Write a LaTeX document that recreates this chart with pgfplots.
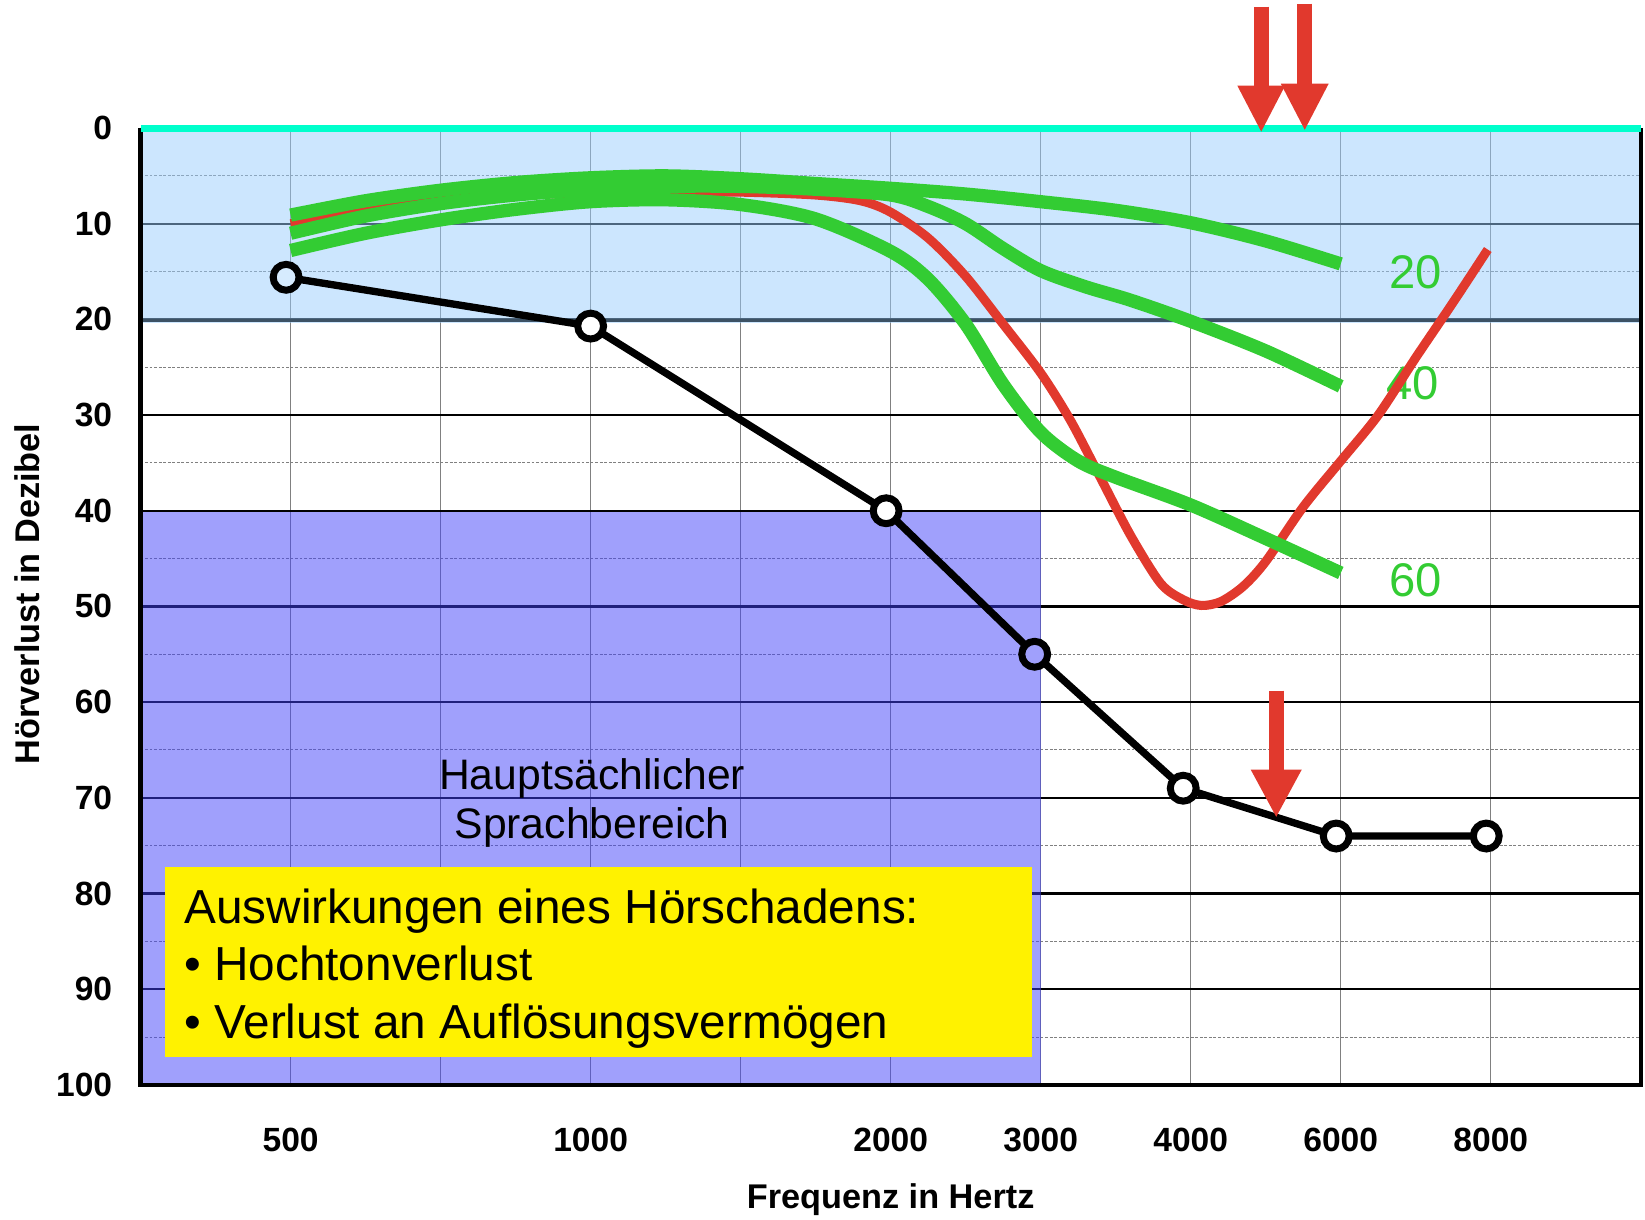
\documentclass[border=0pt]{standalone}
\usepackage{pgfplots}
\pgfplotsset{compat=1.18}
\usepackage{fontspec}
\setmainfont{Liberation Sans}
\usetikzlibrary{arrows.meta}

\definecolor{hlblue}{RGB}{153,205,253}
\definecolor{speech}{RGB}{65,65,249}
\definecolor{curvered}{RGB}{225,57,45}
\definecolor{curvegreen}{RGB}{51,204,51}
\definecolor{zeroline}{RGB}{0,255,204}
\definecolor{gridgray}{RGB}{128,128,128}

\begin{document}
\begin{tikzpicture}
\begin{axis}[
  scale only axis,
  width=429pt, height=273.6pt,
  xmin=0, xmax=10, ymin=0, ymax=100,
  y dir=reverse,
  clip=false,
  axis line style={draw=none},
  xtick={1,...,9},
  xticklabels={500,,1000,,2000,3000,4000,6000,8000},
  ytick={0,10,...,100},
  minor ytick={5,15,...,95},
  major tick length=0pt, minor tick length=0pt,
  xmajorgrids, ymajorgrids, yminorgrids,
  major x grid style={gridgray, line width=0.35pt},
  major y grid style={black, line width=0.65pt},
  minor y grid style={gridgray, line width=0.25pt, dash pattern=on 0.8pt off 0.5pt},
  ticklabel style={font=\fontsize{9.6}{11}\selectfont\bfseries},
  /pgf/number format/assume math mode=true,
  xticklabel shift=8.8pt, yticklabel shift=4.6pt,
  xlabel={Frequenz in Hertz}, ylabel={Hörverlust in Dezibel},
  label style={font=\fontsize{9.8}{11}\selectfont\bfseries},
  xlabel style={at={(axis description cs:0.5,-0.1195)}, anchor=center},
  ylabel style={at={(axis description cs:-0.0755,0.513)}, anchor=center},
]

% shaded bands (grid shows through)
\addplot[draw=none, fill=hlblue, fill opacity=0.5] coordinates {(0,0) (10,0) (10,20.4) (0,20.4)} -- cycle;
\addplot[draw=none, fill=speech, fill opacity=0.5] coordinates {(0,40.15) (6,40.15) (6,100) (0,100)} -- cycle;
\addplot[black!60!hlblue, line width=0.9pt] coordinates {(0,20.1) (10,20.1)};
\addplot[draw=none, fill=yellow] coordinates {(0.16,77.2) (5.94,77.2) (5.94,97.1) (0.16,97.1)} -- cycle;

\node[anchor=base, inner sep=0pt, font=\fontsize{12.2}{14}\selectfont] at (axis cs:3.01,69.1) {Hauptsächlicher};
\node[anchor=base, inner sep=0pt, font=\fontsize{12.2}{14}\selectfont] at (axis cs:3.01,74.3) {Sprachbereich};

\node[anchor=base west, inner sep=0pt, font=\fontsize{13.65}{15}\selectfont] at (axis cs:0.287,83.1) {Auswirkungen eines Hörschadens:};
\node[anchor=base west, inner sep=0pt, font=\fontsize{13.65}{15}\selectfont] at (axis cs:0.287,89.1) {• Hochtonverlust};
\node[anchor=base west, inner sep=0pt, font=\fontsize{13.65}{15}\selectfont] at (axis cs:0.287,95.2) {• Verlust an Auflösungsvermögen};

\node[anchor=base, inner sep=0pt, text=curvegreen, font=\fontsize{13.5}{15}\selectfont] at (axis cs:8.5,16.8) {20};
\node[anchor=base, inner sep=0pt, text=curvegreen, font=\fontsize{13.5}{15}\selectfont] at (axis cs:8.48,28.4) {40};
\node[anchor=base, inner sep=0pt, text=curvegreen, font=\fontsize{13.5}{15}\selectfont] at (axis cs:8.5,49.0) {60};

% red curve
\addplot[curvered, line width=2.6pt, smooth] coordinates {
  (1,10.0) (1.5,8.6) (2,7.5) (2.5,7.0) (3,6.8) (3.5,6.7) (4,6.7) (4.5,7.0)
  (4.8,7.6) (5,8.8) (5.25,11.5) (5.5,15.5) (5.75,20.5) (6,25.6) (6.2,30.6)
  (6.4,36.6) (6.6,42.6) (6.8,47.6) (6.95,49.3) (7.07,49.9) (7.2,49.5)
  (7.35,47.9) (7.5,45.3) (7.75,39.6) (8,34.8) (8.25,30.0) (8.5,24.0)
  (8.75,18.2) (8.98,12.7)
};

% green curves
\addplot[curvegreen, line width=3.8pt, smooth] coordinates {
  (1,9.1) (1.5,7.6) (2,6.5) (2.5,5.7) (3,5.2) (3.5,5.0) (4,5.3) (4.5,5.8)
  (5,6.3) (5.5,6.9) (6,7.7) (6.5,8.6) (7,9.9) (7.5,11.8) (8,14.2)
};
\addplot[curvegreen, line width=3.8pt, smooth] coordinates {
  (1,11.0) (1.5,9.2) (2,7.9) (2.5,7.0) (3,6.4) (3.5,6.1) (4,6.1) (4.5,6.4)
  (5,7.0) (5.25,8.2) (5.5,10.0) (5.75,12.6) (6,14.9) (6.3,16.6) (6.6,18.0)
  (7,20.2) (7.5,23.3) (8,27.0)
};
\addplot[curvegreen, line width=3.8pt, smooth] coordinates {
  (1,12.8) (1.5,11.0) (2,9.6) (2.5,8.5) (3,7.7) (3.5,7.5) (4,8.0) (4.5,9.5)
  (5,12.9) (5.25,15.8) (5.5,20.5) (5.75,26.8) (6,31.8) (6.25,34.8) (6.5,36.5)
  (7,39.4) (7.5,42.9) (8,46.5)
};

% audiogram
\addplot[black, line width=2.1pt, line join=round] coordinates {
  (0.97,15.6) (3,20.7) (4.97,40) (5.96,55) (6.95,69) (7.97,74) (8.97,74)
};
\addplot[only marks, mark=*, mark size=3.7pt, mark options={draw=black, fill=hlblue!40, line width=2pt}] coordinates {(0.97,15.6)};
\addplot[only marks, mark=*, mark size=3.7pt, mark options={draw=black, fill=white, line width=2pt}] coordinates {
  (3,20.7) (4.97,40) (6.95,69) (7.97,74) (8.97,74)
};
\addplot[only marks, mark=*, mark size=3.7pt, mark options={draw=black, fill=speech!50, line width=2pt}] coordinates {(5.96,55)};

% frame
\addplot[black, line width=1.3pt] coordinates {(0,0) (0,100) (10,100) (10,0)};
\addplot[zeroline, line width=2pt] coordinates {(0,0) (10,0)};

% arrows
\addplot[curvered, line width=4.3pt, -{Triangle[width=12.6pt,length=13.5pt]}] coordinates {(7.47,-12.7) (7.47,0.5)};
\addplot[curvered, line width=4.3pt, -{Triangle[width=12.6pt,length=13.5pt]}] coordinates {(7.76,-13.0) (7.76,0.3)};
\addplot[curvered, line width=4.3pt, -{Triangle[width=13.5pt,length=13.8pt]}] coordinates {(7.57,58.8) (7.57,72.1)};

\coordinate (bl) at (axis description cs:-0.0937,-0.1404);
\coordinate (tr) at (axis description cs:1.0028,1.1338);
\end{axis}
\pgfresetboundingbox
\path (bl) rectangle (tr);
\end{tikzpicture}
\end{document}
